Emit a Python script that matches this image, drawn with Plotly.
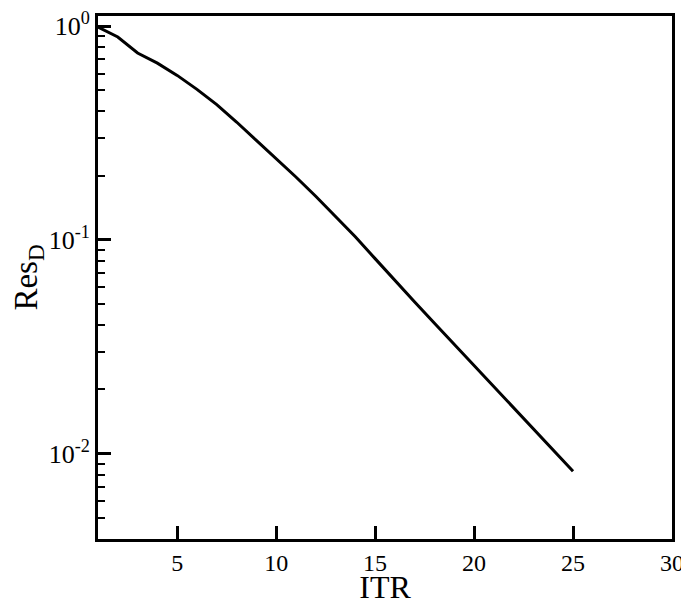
import plotly.graph_objects as go
import math

itr = list(range(1, 26))
res_d = [0.99, 0.889, 0.748, 0.671, 0.588, 0.506, 0.429, 0.356, 0.292, 0.241,
         0.197, 0.160, 0.129, 0.1035, 0.0818, 0.0646, 0.0513, 0.0408, 0.0325, 0.0259,
         0.0206, 0.0164, 0.01306, 0.0104, 0.0083]

x_ticks = [5, 10, 15, 20, 25, 30]
y_tickvals = [1, 0.1, 0.01]
y_ticktext = ["10<sup>0</sup>", "10<sup>-1</sup>", "10<sup>-2</sup>"]
minor_vals = [m * 10.0 ** e for e in (-3, -2, -1) for m in range(2, 10)]

FONT = "Liberation Serif"

fig = go.Figure()
fig.add_trace(go.Scatter(x=itr, y=res_d, mode="lines",
                         line=dict(color="black", width=3), showlegend=False))

# page body adds an 8px offset, so the figure is sized to fill 689x605 from (8, 8)
fig.update_layout(
    width=681, height=597,
    margin=dict(l=90, r=17, t=8, b=66),
    paper_bgcolor="white", plot_bgcolor="white",
    font=dict(family=FONT, color="black"),
)
fig.update_xaxes(
    automargin=False, ticklabeloverflow="allow",
    range=[1, 30], tickvals=x_ticks, ticks="inside", ticklen=13, tickwidth=3,
    tickcolor="black", showline=True, linewidth=3, linecolor="black", mirror=True,
    showgrid=False, zeroline=False, tickfont=dict(size=24, family=FONT),
    title=dict(text="ITR", font=dict(size=32, family=FONT), standoff=2),
)
fig.update_yaxes(
    automargin=False, ticklabeloverflow="allow",
    type="log", range=[math.log10(0.004), 0.047],
    tickvals=y_tickvals, ticktext=y_ticktext, ticks="inside", ticklen=13, tickwidth=3,
    tickcolor="black", showline=True, linewidth=3, linecolor="black", mirror=True,
    showgrid=False, zeroline=False, tickfont=dict(size=26, family=FONT),
    minor=dict(tickvals=minor_vals, ticks="inside", ticklen=7, tickwidth=2,
               tickcolor="black", showgrid=False),
    title=dict(text="Res<sub>D</sub>", font=dict(size=33, family=FONT), standoff=6),
)

fig.write_html("out.html")
